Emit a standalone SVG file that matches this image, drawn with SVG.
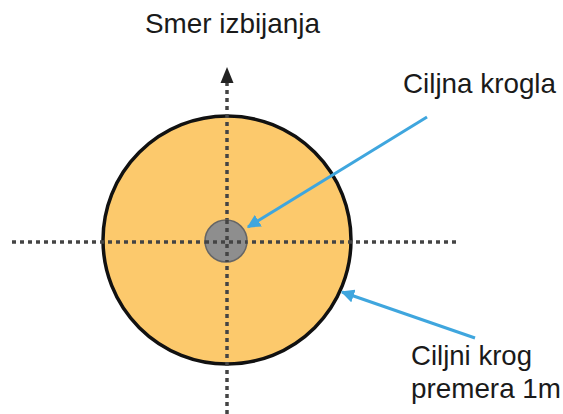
<svg xmlns="http://www.w3.org/2000/svg" width="563" height="414" viewBox="0 0 563 414">
<style>
.t{font-family:"Liberation Sans",Arial,sans-serif;font-size:27.5px;fill:#1a1a1a}
.ax{stroke:#444;stroke-width:3.5;stroke-dasharray:4 4;fill:none}
.bl{stroke:#3fa6de;stroke-width:3;fill:none}
</style>
<defs>
<marker id="ah" viewBox="0 0 10 10" refX="9" refY="5" markerWidth="4.5" markerHeight="4.5" orient="auto" markerUnits="strokeWidth">
<path d="M0,0 L10,5 L0,10 z" fill="#3fa6de"/>
</marker>
</defs>
<rect width="563" height="414" fill="#fff"/>
<g id="target-circle">
<circle cx="227" cy="240" r="124" fill="#fcc96c" stroke="#111" stroke-width="3.5"/>
</g>
<g id="connectors">
<line class="ax" x1="12" y1="242" x2="460" y2="242"/>
<line class="ax" x1="227" y1="414" x2="227" y2="82"/>
<path d="M227,67 L220.5,83 L233.5,83 z" fill="#222"/>
<line class="bl" x1="427" y1="117" x2="248" y2="227" marker-end="url(#ah)"/>
<line class="bl" x1="475" y1="338" x2="342" y2="292" marker-end="url(#ah)"/>
</g>
<g id="target-ball">
<circle cx="226" cy="241" r="21" fill="#8e8e8e" stroke="#666" stroke-width="1.5"/>
<line class="ax" x1="205" y1="242" x2="247" y2="242" stroke-width="2.5"/>
<line class="ax" x1="227" y1="220" x2="227" y2="262" stroke-width="2.5"/>
</g>
<g id="labels">
<text class="t" x="145" y="33" textLength="175" lengthAdjust="spacingAndGlyphs">Smer izbijanja</text>
<text class="t" x="403" y="93" textLength="153" lengthAdjust="spacingAndGlyphs">Ciljna krogla</text>
<text class="t" x="411" y="365" textLength="121" lengthAdjust="spacingAndGlyphs">Ciljni krog</text>
<text class="t" x="411" y="398" textLength="150" lengthAdjust="spacingAndGlyphs">premera 1m</text>
</g>
</svg>
